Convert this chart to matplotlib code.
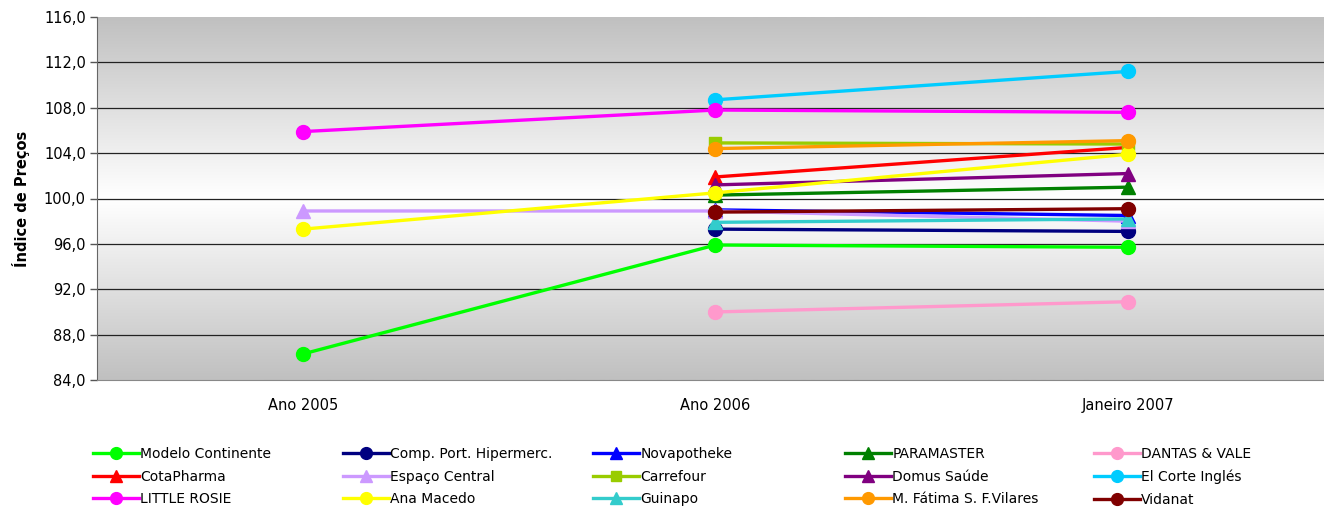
import matplotlib
matplotlib.use("Agg")
import matplotlib.pyplot as plt
import numpy as np

nan = np.nan

periods = ["Ano 2005", "Ano 2006", "Janeiro 2007"]

# index values per store (nan = no observation)
modelo_continente = [86.3, 95.9, 95.7]
comp_port_hipermerc = [nan, 97.3, 97.1]
novapotheke = [nan, 99.0, 98.5]
paramaster = [nan, 100.3, 101.0]
dantas_vale = [nan, 90.0, 90.9]
cotapharma = [nan, 101.9, 104.5]
espaco_central = [98.9, 98.9, 98.0]
carrefour = [nan, 104.9, 104.8]
domus_saude = [nan, 101.2, 102.2]
el_corte_ingles = [nan, 108.7, 111.2]
little_rosie = [105.9, 107.8, 107.6]
ana_macedo = [97.3, 100.5, 103.9]
guinapo = [nan, 97.9, 98.2]
m_fatima = [nan, 104.4, 105.1]
vidanat = [nan, 98.8, 99.1]

series = [
    ("Modelo Continente", modelo_continente, "#00FF00", "o"),
    ("Comp. Port. Hipermerc.", comp_port_hipermerc, "#000080", "o"),
    ("Novapotheke", novapotheke, "#0000FF", "^"),
    ("PARAMASTER", paramaster, "#008000", "^"),
    ("DANTAS & VALE", dantas_vale, "#FF99CC", "o"),
    ("CotaPharma", cotapharma, "#FF0000", "^"),
    ("Espaço Central", espaco_central, "#CC99FF", "^"),
    ("Carrefour", carrefour, "#99CC00", "s"),
    ("Domus Saúde", domus_saude, "#800080", "^"),
    ("El Corte Inglés", el_corte_ingles, "#00CCFF", "o"),
    ("LITTLE ROSIE", little_rosie, "#FF00FF", "o"),
    ("Ana Macedo", ana_macedo, "#FFFF00", "o"),
    ("Guinapo", guinapo, "#33CCCC", "^"),
    ("M. Fátima S. F.Vilares", m_fatima, "#FF9900", "o"),
    ("Vidanat", vidanat, "#800000", "o"),
]

plt.rcParams['font.family'] = ['DejaVu Sans']

fig = plt.figure(figsize=(13.24, 5.07), dpi=100)
ax = fig.add_axes([97 / 1324, 127 / 507, 1227 / 1324, 363 / 507])

# gray-white-gray background gradient
grad = np.abs(np.linspace(-1, 1, 256))[:, None]
ax.imshow(grad, extent=[0, 1, 0, 1], transform=ax.transAxes, aspect='auto',
          cmap=matplotlib.colors.LinearSegmentedColormap.from_list(
              "bg", ["#ffffff", "#c0c0c0"]), zorder=0)

x = np.arange(len(periods))
handles = []
for name, vals, color, mk in series:
    v = np.array(vals, dtype=float)
    ok = ~np.isnan(v)
    h, = ax.plot(x[ok], v[ok], color=color, lw=2.4, marker=mk,
                 markersize=10 if mk != "s" else 9, label=name, zorder=3)
    handles.append(h)

ax.set_ylim(84, 116)
ax.set_xlim(-0.5, 2.476)
ax.set_yticks(np.arange(84, 117, 4))
ax.set_yticklabels([f"{t:.1f}".replace(".", ",") for t in np.arange(84, 117, 4)])
ax.set_xticks(x)
ax.set_xticklabels(periods)
ax.tick_params(axis='x', length=0, pad=13, labelsize=10.5)
ax.tick_params(axis='y', length=5, width=1, color='#555555', labelsize=10.5, pad=3)
for t in np.arange(88, 116, 4):
    ax.axhline(t, color='#222222', lw=0.9, zorder=1)
for s in ['top', 'right']:
    ax.spines[s].set_visible(False)
ax.spines['left'].set_color('#666666')
ax.spines['bottom'].set_color('#888888')
ax.set_ylabel("Índice de Preços", fontsize=10.5, fontweight='bold', labelpad=10)

# legend: 5 columns, rows read left to right
col_x = [93, 343, 593, 845, 1094]
for c in range(5):
    hs = [handles[c], handles[c + 5], handles[c + 10]]
    fig.legend(handles=hs, loc='upper left',
               bbox_to_anchor=(col_x[c] / 1324, 1 - 447 / 507),
               frameon=False, borderpad=0, borderaxespad=0,
               handlelength=3.3, handletextpad=0.1, labelspacing=0.62,
               fontsize=10, markerscale=0.85)

fig.savefig("out.png", dpi=100)
